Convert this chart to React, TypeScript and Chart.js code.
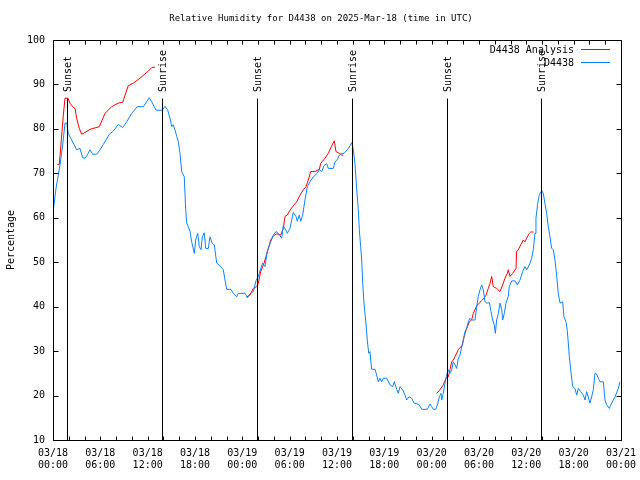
import React, { useEffect, useRef } from 'react';
import { Chart, registerables } from 'chart.js';

Chart.register(...registerables);

const FONT = '"DejaVu Sans Mono", "Liberation Mono", monospace';
const TITLE = 'Relative Humidity for D4438 on 2025-Mar-18 (time in UTC)';
const Y_TITLE = 'Percentage';
const SERIES_OBS = 'D4438';
const SERIES_ANALYSIS = 'D4438 Analysis';
const RED = '#ff0000';
const BLUE = '#0a84ff';

// x axis: hours since 03/18 00:00 UTC
const xTickDates = ['03/18', '03/18', '03/18', '03/18', '03/19', '03/19', '03/19', '03/19', '03/20', '03/20', '03/20', '03/20', '03/21'];
const xTickTimes = ['00:00', '06:00', '12:00', '18:00', '00:00', '06:00', '12:00', '18:00', '00:00', '06:00', '12:00', '18:00', '00:00'];

const sunLabels = ['Sunset', 'Sunrise', 'Sunset', 'Sunrise', 'Sunset', 'Sunrise'];
const sunHours = [1.82, 13.86, 25.9, 37.94, 50.0, 61.9];
const sunLineTop = 87;

const blueHours = [0, 0.38, 0.67, 0.89, 1.23, 1.52, 1.74, 1.94, 2.24, 2.57, 3.0, 3.42, 3.76, 4.06, 4.35, 4.69, 5.03, 5.54, 5.96, 6.38, 7.14, 7.64, 8.28, 8.84, 9.34, 9.98, 10.69, 11.45, 12.21, 12.51, 13.06, 13.85, 14.2, 14.54, 14.83, 15.05, 15.25, 15.46, 15.68, 15.88, 16.1, 16.31, 16.64, 16.82, 16.95, 17.15, 17.37, 17.58, 17.91, 18.09, 18.34, 18.55, 18.76, 18.93, 19.18, 19.36, 19.69, 19.9, 20.19, 20.45, 20.75, 21.17, 21.59, 21.8, 22.02, 22.56, 22.85, 23.29, 23.49, 24.34, 24.65, 24.97, 25.39, 25.73, 26.02, 26.33, 26.58, 26.87, 27.16, 27.51, 27.93, 28.27, 28.56, 28.99, 29.19, 29.53, 29.7, 30.04, 30.46, 30.8, 30.97, 31.22, 31.4, 31.65, 31.94, 32.24, 32.58, 32.99, 33.5, 33.76, 34.06, 34.35, 34.69, 34.9, 35.53, 35.75, 36.04, 36.29, 36.6, 36.89, 37.31, 37.65, 37.86, 38.07, 38.28, 38.5, 38.7, 38.83, 39.0, 39.13, 39.26, 39.42, 39.67, 39.84, 40.02, 40.18, 40.27, 40.4, 40.82, 41.03, 41.23, 41.45, 41.66, 41.87, 42.3, 42.72, 43.06, 43.26, 43.57, 43.77, 43.99, 44.33, 44.62, 44.83, 45.13, 45.47, 45.76, 46.39, 46.74, 47.45, 47.79, 48.0, 48.21, 48.51, 48.76, 48.97, 49.18, 49.27, 49.47, 49.69, 49.9, 50.11, 50.32, 50.54, 50.74, 50.96, 51.17, 51.38, 51.59, 51.81, 52.01, 52.23, 52.44, 52.64, 52.86, 53.07, 53.49, 53.71, 53.91, 54.13, 54.34, 54.54, 54.76, 54.98, 55.31, 55.52, 55.74, 55.94, 56.07, 56.24, 56.45, 56.66, 56.88, 57.0, 57.21, 57.42, 57.71, 57.84, 58.14, 58.56, 58.85, 59.2, 59.54, 59.83, 60.05, 60.38, 60.68, 60.88, 61.1, 61.22, 61.44, 61.64, 61.95, 62.15, 62.36, 62.58, 62.78, 63.0, 63.21, 63.42, 63.63, 63.85, 64.05, 64.27, 64.61, 64.77, 65.03, 65.19, 65.45, 65.62, 65.88, 66.17, 66.38, 66.59, 66.89, 67.22, 67.44, 67.65, 67.85, 68.07, 68.28, 68.49, 68.7, 68.92, 69.12, 69.34, 69.76, 69.97, 70.19, 70.52, 70.82, 71.24, 71.66, 71.87];
const blueValues = [61.1, 66.6, 69.6, 71.9, 76.4, 81.3, 81.3, 79.0, 77.9, 76.8, 75.3, 75.6, 73.5, 73.4, 74.1, 75.3, 74.3, 74.3, 75.3, 76.5, 78.8, 79.5, 81.0, 80.3, 81.6, 83.5, 85.0, 85.0, 87.0, 86.1, 84.2, 84.2, 85.1, 84.2, 82.4, 80.5, 80.9, 79.8, 78.3, 77.2, 74.5, 70.4, 69.2, 61.8, 58.8, 58.0, 56.9, 54.6, 52.0, 55.0, 56.5, 53.5, 52.8, 55.7, 56.6, 53.1, 53.1, 55.7, 54.2, 53.9, 49.8, 49.2, 48.3, 46.0, 43.9, 43.9, 43.0, 42.2, 43.0, 43.0, 42.0, 42.9, 43.4, 45.8, 46.8, 48.6, 49.8, 49.0, 52.4, 54.2, 56.1, 56.9, 56.5, 55.4, 58.2, 57.2, 56.5, 57.6, 61.2, 60.3, 59.2, 60.6, 59.2, 60.6, 64.0, 67.0, 68.1, 69.2, 70.0, 70.8, 70.4, 71.7, 72.2, 71.1, 71.1, 72.6, 73.1, 74.1, 74.5, 74.5, 75.3, 76.2, 76.9, 75.3, 72.2, 66.3, 61.8, 57.3, 53.5, 50.5, 45.2, 40.8, 36.3, 32.5, 29.5, 29.9, 28.0, 25.9, 25.9, 24.6, 23.1, 23.9, 23.1, 23.9, 23.9, 22.4, 22.0, 23.1, 21.4, 20.5, 22.0, 21.3, 20.1, 19.0, 19.7, 19.4, 18.3, 18.0, 16.9, 16.9, 18.1, 17.5, 16.9, 16.9, 18.1, 19.7, 20.5, 19.0, 20.5, 22.8, 24.6, 25.8, 25.0, 25.8, 27.6, 26.9, 26.1, 28.4, 29.1, 31.0, 32.5, 34.4, 35.1, 36.6, 37.4, 37.0, 37.0, 40.0, 42.3, 43.8, 44.9, 43.8, 41.1, 40.8, 40.9, 38.9, 37.0, 35.9, 34.0, 37.0, 38.5, 40.8, 39.3, 37.0, 38.5, 40.8, 42.3, 44.5, 45.8, 45.8, 44.9, 46.0, 47.9, 49.0, 48.3, 49.4, 50.9, 52.8, 56.5, 59.9, 63.2, 65.1, 66.1, 65.5, 63.2, 61.0, 58.0, 55.7, 53.1, 52.8, 50.5, 46.8, 43.0, 40.8, 41.1, 37.7, 36.6, 34.7, 28.8, 25.8, 22.0, 21.6, 20.1, 21.6, 20.9, 20.1, 19.0, 20.9, 19.7, 18.3, 19.7, 21.3, 25.0, 24.8, 23.9, 23.1, 23.1, 19.0, 17.9, 17.1, 18.3, 19.7, 21.6, 23.1];

// null values mark gaps between analysis segments
const redHours = [0.55, 0.8, 1.31, 1.52, 1.9, 2.15, 2.5, 2.79, 3.0, 3.33, 3.64, 4.06, 4.69, 5.87, 6.59, 7.44, 8.28, 8.84, 9.54, 10.18, 11.03, 12.08, 12.51, 12.93, 18.0, 24.55, 24.97, 25.39, 25.82, 26.02, 26.33, 26.75, 27.0, 27.29, 27.6, 27.93, 28.36, 28.86, 29.19, 29.41, 29.7, 30.04, 30.55, 30.89, 31.31, 31.73, 32.07, 32.36, 32.67, 33.21, 33.76, 33.93, 34.48, 34.9, 35.33, 35.66, 35.87, 36.29, 36.6, 36.8, 42.0, 48.64, 49.06, 49.47, 49.82, 50.11, 50.32, 50.54, 50.74, 50.96, 51.38, 51.59, 51.88, 52.01, 52.23, 52.44, 52.77, 53.07, 53.28, 53.71, 54.04, 54.34, 54.63, 54.89, 55.18, 55.39, 55.61, 55.81, 56.24, 56.66, 57.0, 57.29, 57.59, 57.71, 57.93, 58.27, 58.69, 58.77, 58.98, 59.29, 59.62, 59.83, 60.05, 60.38, 60.55, 60.88];
const redValues = [72.0, 72.0, 83.1, 86.9, 86.9, 85.8, 85.0, 84.6, 82.4, 80.1, 78.8, 79.2, 79.9, 80.5, 83.5, 85.0, 85.8, 86.0, 89.7, 90.3, 91.4, 93.0, 93.8, 93.9, null, 42.2, 42.6, 44.1, 44.5, 45.2, 47.9, 49.8, 51.3, 53.1, 55.0, 55.9, 56.4, 56.1, 57.6, 60.3, 60.6, 61.7, 62.9, 63.6, 65.1, 66.3, 67.0, 68.5, 70.4, 70.4, 70.9, 72.2, 73.4, 74.5, 76.2, 77.3, 74.9, 74.5, 74.1, 74.1, null, 20.5, 21.3, 22.4, 23.9, 24.2, 25.8, 27.6, 28.0, 28.8, 30.3, 30.8, 31.2, 32.5, 34.0, 35.1, 36.6, 37.0, 38.5, 40.2, 40.8, 41.4, 41.9, 42.6, 44.1, 45.2, 46.8, 44.5, 44.1, 43.4, 44.9, 46.4, 47.5, 48.3, 46.8, 47.5, 48.6, 52.4, 52.8, 53.9, 55.0, 54.6, 55.4, 56.5, 56.8, 56.8];

export default function App() {
  const ref = useRef<HTMLCanvasElement>(null);

  useEffect(() => {
    const canvas = ref.current;
    if (!canvas) return;

    const overlay = {
      id: 'gnuplotOverlay',
      afterDraw(chart: any) {
        const { ctx, chartArea, scales } = chart;
        const { left, top, right, bottom } = chartArea;
        const xs = scales.x;
        const ys = scales.y;
        const L = Math.round(left) + 0.5;
        const R = Math.round(right) + 0.5;
        const T = Math.round(top) + 0.5;
        const B = Math.round(bottom) + 0.5;
        ctx.save();
        ctx.strokeStyle = '#000';
        ctx.fillStyle = '#000';
        ctx.lineWidth = 1;

        // frame
        ctx.beginPath();
        ctx.rect(L, T, R - L, B - T);
        ctx.stroke();

        // inward ticks
        ctx.beginPath();
        for (let v = 10; v <= 100; v += 10) {
          const py = Math.round(ys.getPixelForValue(v)) + 0.5;
          ctx.moveTo(L, py); ctx.lineTo(L + 5, py);
          ctx.moveTo(R, py); ctx.lineTo(R - 5, py);
        }
        for (let h = 0; h <= 72; h += 2) {
          const px = Math.round(xs.getPixelForValue(h)) + 0.5;
          ctx.moveTo(px, B); ctx.lineTo(px, B - 4);
          ctx.moveTo(px, T); ctx.lineTo(px, T + 4);
        }
        ctx.stroke();

        // sunrise / sunset markers
        const yTop = ys.getPixelForValue(sunLineTop);
        ctx.font = `10px ${FONT}`;
        sunHours.forEach((h, i) => {
          const px = Math.round(xs.getPixelForValue(h)) + 0.5;
          ctx.beginPath();
          ctx.moveTo(px, Math.round(yTop) + 0.5);
          ctx.lineTo(px, B);
          ctx.stroke();
          ctx.save();
          ctx.translate(px + 1, Math.round(yTop) - 6);
          ctx.rotate(-Math.PI / 2);
          ctx.textAlign = 'left';
          ctx.textBaseline = 'middle';
          ctx.fillText(sunLabels[i], 0, 0);
          ctx.restore();
        });

        // title
        ctx.font = `9px ${FONT}`;
        ctx.textAlign = 'center';
        ctx.textBaseline = 'middle';
        ctx.fillText(TITLE, 321, 19);

        // y title
        ctx.font = `10px ${FONT}`;
        ctx.save();
        ctx.translate(11, 240);
        ctx.rotate(-Math.PI / 2);
        ctx.fillText(Y_TITLE, 0, 0);
        ctx.restore();

        // legend
        ctx.textAlign = 'right';
        const rows = [
          { label: SERIES_ANALYSIS, color: RED, y: 49 },
          { label: SERIES_OBS, color: BLUE, y: 62 },
        ];
        rows.forEach((r) => {
          ctx.fillStyle = '#000';
          ctx.fillText(r.label, 574, r.y + 1);
          ctx.strokeStyle = r.color;
          ctx.beginPath();
          ctx.moveTo(581, r.y + 0.5);
          ctx.lineTo(610, r.y + 0.5);
          ctx.stroke();
        });
        ctx.restore();
      },
    };

    const chart = new Chart(canvas, {
      type: 'line',
      data: {
        datasets: [
          {
            label: SERIES_OBS,
            data: blueHours.map((h, i) => ({ x: h, y: blueValues[i] })),
            borderColor: BLUE,
            backgroundColor: BLUE,
            borderWidth: 1,
            pointRadius: 0,
            tension: 0,
            fill: false,
          },
          {
            label: SERIES_ANALYSIS,
            data: redHours.map((h, i) => ({ x: h, y: redValues[i] })),
            borderColor: RED,
            backgroundColor: RED,
            borderWidth: 1,
            pointRadius: 0,
            tension: 0,
            fill: false,
            spanGaps: false,
          },
        ],
      },
      options: {
        responsive: false,
        animation: false,
        devicePixelRatio: 1,
        layout: { padding: { left: 0, top: 40, right: 19, bottom: 0 } },
        plugins: {
          legend: { display: false },
          title: { display: false },
          tooltip: { enabled: false },
        },
        scales: {
          x: {
            type: 'linear',
            min: 0,
            max: 72,
            grid: { display: false, drawTicks: false },
            border: { display: false },
            ticks: {
              stepSize: 6,
              autoSkip: false,
              maxRotation: 0,
              minRotation: 0,
              padding: 7,
              color: '#000',
              font: { family: FONT, size: 10, lineHeight: 1.25 },
              callback: (_v: any, i: number) => [xTickDates[i], xTickTimes[i]],
            },
            afterFit: (s: any) => { s.height = 40; s.paddingLeft = 0; s.paddingRight = 0; },
          },
          y: {
            min: 10,
            max: 100,
            grid: { display: false, drawTicks: false },
            border: { display: false },
            ticks: {
              stepSize: 10,
              padding: 8,
              color: '#000',
              font: { family: FONT, size: 10 },
            },
            afterFit: (s: any) => { s.width = 53; s.paddingTop = 0; s.paddingBottom = 0; },
          },
        },
      },
      plugins: [overlay],
    });

    return () => chart.destroy();
  }, []);

  return (
    <div style={{ position: 'absolute', left: 0, top: 0, width: 640, height: 480, background: '#fff' }}>
      <canvas ref={ref} width={640} height={480} style={{ width: 640, height: 480, display: 'block' }} />
    </div>
  );
}
